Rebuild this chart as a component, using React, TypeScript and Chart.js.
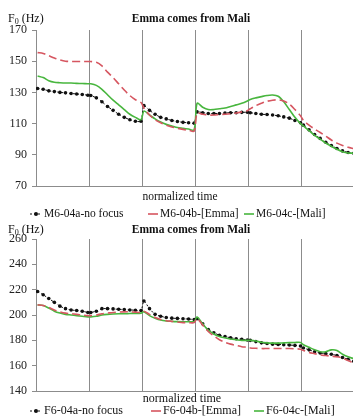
import React, { useEffect, useRef } from "react";
import { Chart, registerables } from "chart.js";

Chart.register(...registerables);

// ---------- data ----------
const SEGMENTS = [0, 1, 2, 3, 4, 5];
const SEG_FRAC = [0.03, 0.135, 0.24, 0.345, 0.45, 0.555, 0.66, 0.765, 0.87, 0.975];
const TIME = SEGMENTS.flatMap((k) => SEG_FRAC.map((f) => k + f));

const TITLE = "Emma comes from Mali";
const X_TITLE = "normalized time";

const M_LABELS = ["M6-04a-no focus", "M6-04b-[Emma]", "M6-04c-[Mali]"];
const F_LABELS = ["F6-04a-no focus", "F6-04b-[Emma]", "F6-04c-[Mali]"];

const M_NOFOCUS = [
  132.5, 132, 131, 130.5, 130, 129.7, 129.3, 129, 128.7, 128.2,
  128, 126.5, 124, 121, 118.5, 116, 114, 112.5, 111.5, 111.5,
  121.5, 118.5, 116, 114, 113, 112, 111.3, 110.8, 110.5, 110.3,
  117.5, 117, 116.5, 116.5, 116.5, 116.8, 117, 117, 117.2, 117.3,
  117, 116.5, 116, 115.8, 115.5, 115, 114.3, 113.5, 112, 110.5,
  109, 106, 103, 100.5, 98, 96, 94, 92.5, 91.5, 91,
];
const M_EMMA = [
  155.5, 155, 153.5, 152, 150.8, 150, 149.8, 149.8, 149.8, 149.8,
  149.8, 149.3, 147, 143, 139.5, 135.5, 131.5, 128, 125.3, 123.5,
  120, 115.5, 112.5, 110.5, 109, 107.8, 107, 106.3, 105.7, 105.2,
  116.5, 116, 115.5, 115.5, 115.8, 116, 116.3, 116.8, 117.5, 118.3,
  119.5, 121.5, 123, 124.3, 125, 125.2, 124.5, 122.5, 119, 115,
  112, 109, 106.5, 104.3, 102, 99.5, 97.5, 96, 94.8, 94,
];
const M_MALI = [
  140.5, 139.5, 137.5, 136.5, 136.2, 136, 136, 135.8, 135.7, 135.5,
  135.5, 134.5, 132, 128.5, 125, 122, 119, 116, 114, 112.5,
  118, 115.5, 113, 111, 109.5, 108.5, 107.5, 107, 106.5, 106,
  123, 120.5, 119, 119, 119.5, 120, 121, 122, 123, 124.5,
  125.5, 126.5, 127.3, 128, 128.3, 127.5, 124, 119, 114, 110,
  108.5, 105.5, 102.5, 100, 97.5, 95.5, 93.5, 92, 91.2, 91,
];

const F_NOFOCUS = [
  218.5, 216, 213, 210, 207, 205, 204, 203.5, 203, 202,
  202, 203, 205, 205, 204.8, 204.5, 204.3, 204, 203.8, 203.5,
  211, 205, 200.5, 199, 198, 197.5, 197.3, 197, 196.8, 196.5,
  197, 193, 188.5, 186, 184, 183, 182, 181.3, 180.8, 180.3,
  180, 179, 178, 177.5, 177, 176.8, 176.5, 176.3, 176, 175.5,
  174, 172.5, 171, 170, 169.5, 169, 168, 166.5, 165, 163.5,
];
const F_EMMA = [
  208, 207.5, 206, 204, 202.5, 201.5, 201, 200.5, 200, 199.5,
  199.5, 200, 201, 201.5, 202, 202.3, 202.5, 202.5, 202.3, 202,
  203, 200.5, 198, 196.5, 195.5, 195, 194.5, 194, 194, 194,
  197, 192, 187, 183.5, 180.5, 178.5, 177, 176, 175, 174.5,
  174, 173.7, 173.5, 173.5, 173.5, 173.5, 173.5, 173.5, 173.3, 173,
  172, 170.5, 169.5, 168.5, 168, 167.5, 167, 166, 164, 162,
];
const F_MALI = [
  208, 207.5, 205.5, 203, 201.5, 200.5, 200, 199.5, 199, 198.5,
  198.5, 199, 200, 200.5, 200.8, 201, 201, 201.2, 201.3, 201.5,
  202.5, 199.5, 197.5, 196, 195.3, 195, 194.8, 194.7, 194.7, 194.8,
  198.5, 193, 188, 185, 183, 182, 181, 180.5, 180, 180,
  180, 179.5, 178.5, 178, 177.8, 177.8, 178, 178.2, 178.3, 178.3,
  176.5, 174.5, 172.5, 171, 171, 172.5, 172, 169, 167, 165.5,
];

// ---------- styling ----------
const SERIF = '"Liberation Serif", "Times New Roman", serif';
const BLACK = "#111111";
const RED = "rgb(214, 86, 96)";
const GREEN = "rgb(72, 182, 62)";
const AXIS_GRAY = "#8c8c8c";

type Layout = {
  W: number;
  H: number;
  top: number;
  bottom: number;
  left: number;
  right: number;
  titleX: number;
  titleY: number;
  yLabelY: number;
  xTitleX: number;
  xTitleY: number;
  xTitleSize: number;
  legendY: number;
  legendSize: number;
  legendX: number[]; // symbol start x for each item
};

type Props = {
  layout: Layout;
  yMin: number;
  yMax: number;
  yStep: number;
  labels: string[];
  values: number[][];
};

function drawSymbol(ctx: CanvasRenderingContext2D, i: number, x: number, y: number) {
  ctx.save();
  if (i === 0) {
    ctx.strokeStyle = BLACK;
    ctx.lineWidth = 1;
    ctx.setLineDash([2, 2]);
    ctx.beginPath();
    ctx.moveTo(x, y);
    ctx.lineTo(x + 12, y);
    ctx.stroke();
    ctx.setLineDash([]);
    ctx.fillStyle = BLACK;
    ctx.beginPath();
    ctx.arc(x + 6, y, 2, 0, Math.PI * 2);
    ctx.fill();
  } else {
    ctx.strokeStyle = i === 1 ? RED : GREEN;
    ctx.lineWidth = 1.6;
    ctx.beginPath();
    ctx.moveTo(x, y);
    ctx.lineTo(x + 10, y);
    ctx.stroke();
  }
  ctx.restore();
}

function LineChart({ layout, yMin, yMax, yStep, labels, values }: Props) {
  const ref = useRef<HTMLCanvasElement | null>(null);

  useEffect(() => {
    const canvas = ref.current;
    if (!canvas) return;
    const L = layout;

    const textPlugin = {
      id: "texts",
      afterDraw(chart: any) {
        const ctx: CanvasRenderingContext2D = chart.ctx;
        ctx.save();
        ctx.fillStyle = "#111";
        ctx.textBaseline = "middle";
        // title
        ctx.font = `bold 11.5px ${SERIF}`;
        ctx.textAlign = "center";
        ctx.fillText(TITLE, L.titleX, L.titleY);
        // y label F0 (Hz)
        ctx.textAlign = "left";
        ctx.textBaseline = "alphabetic";
        ctx.font = `12px ${SERIF}`;
        let x = 8;
        ctx.fillText("F", x, L.yLabelY);
        x += ctx.measureText("F").width;
        ctx.font = `8px ${SERIF}`;
        ctx.fillText("0", x, L.yLabelY + 2);
        x += ctx.measureText("0").width;
        ctx.font = `12px ${SERIF}`;
        ctx.fillText(" (Hz)", x, L.yLabelY);
        // x title
        ctx.textBaseline = "middle";
        ctx.textAlign = "center";
        ctx.font = `${L.xTitleSize}px ${SERIF}`;
        ctx.fillText(X_TITLE, L.xTitleX, L.xTitleY);
        // legend
        ctx.textAlign = "left";
        ctx.font = `${L.legendSize}px ${SERIF}`;
        labels.forEach((lab, i) => {
          const sx = L.legendX[i];
          drawSymbol(ctx, i, sx, L.legendY);
          const w = i === 0 ? 14 : 12;
          ctx.fillStyle = "#111";
          ctx.fillText(lab, sx + w, L.legendY);
        });
        ctx.restore();
      },
    };

    const mk = (vals: number[]) => TIME.map((t, i) => ({ x: t, y: vals[i] }));

    const chart = new Chart(canvas, {
      type: "line",
      data: {
        datasets: [
          {
            label: labels[1],
            data: mk(values[1]),
            borderColor: RED,
            borderWidth: 1.6,
            borderDash: [8, 4],
            pointRadius: 0,
            tension: 0.3,
          },
          {
            label: labels[2],
            data: mk(values[2]),
            borderColor: GREEN,
            borderWidth: 1.6,
            pointRadius: 0,
            tension: 0.3,
          },
          {
            label: labels[0],
            data: mk(values[0]),
            borderColor: BLACK,
            borderWidth: 1,
            borderDash: [2, 2],
            pointRadius: 1.8,
            pointBackgroundColor: BLACK,
            pointBorderWidth: 0,
            tension: 0.2,
          },
        ],
      },
      options: {
        animation: false,
        responsive: false,
        devicePixelRatio: 1,
        layout: { padding: { top: L.top, right: L.W - L.right, left: 0, bottom: 0 } },
        plugins: {
          legend: { display: false },
          title: { display: false },
          tooltip: { enabled: false },
        },
        scales: {
          x: {
            type: "linear",
            min: 0,
            max: 6,
            ticks: { display: false, stepSize: 1 },
            grid: { color: AXIS_GRAY, drawTicks: false, lineWidth: 1 },
            border: { color: AXIS_GRAY },
            afterFit: (s: any) => {
              s.height = L.H - L.bottom;
            },
          },
          y: {
            min: yMin,
            max: yMax,
            ticks: {
              stepSize: yStep,
              color: "#222",
              padding: 5,
              font: { family: SERIF, size: 12 },
            },
            grid: { drawOnChartArea: false, drawTicks: true, tickLength: 4, color: AXIS_GRAY },
            border: { color: AXIS_GRAY },
            afterFit: (s: any) => {
              s.width = L.left;
            },
          },
        },
      },
      plugins: [textPlugin],
    });
    return () => chart.destroy();
  }, [layout, yMin, yMax, yStep, labels, values]);

  return <canvas ref={ref} width={layout.W} height={layout.H} style={{ display: "block" }} />;
}

const TOP_LAYOUT: Layout = {
  W: 370,
  H: 220,
  top: 30,
  bottom: 186,
  left: 36,
  right: 355,
  titleX: 191,
  titleY: 19,
  yLabelY: 22,
  xTitleX: 180,
  xTitleY: 197,
  xTitleSize: 11.5,
  legendY: 214,
  legendSize: 11.5,
  legendX: [30, 148, 244],
};

const BOTTOM_LAYOUT: Layout = {
  W: 370,
  H: 200,
  top: 19,
  bottom: 171,
  left: 36,
  right: 355,
  titleX: 191,
  titleY: 10,
  yLabelY: 13,
  xTitleX: 182,
  xTitleY: 179,
  xTitleSize: 12,
  legendY: 191,
  legendSize: 12,
  legendX: [30, 151, 254],
};

export default function App() {
  return (
    <div
      style={{
        position: "fixed",
        left: 0,
        top: 0,
        width: 353,
        height: 420,
        overflow: "hidden",
        background: "#fff",
      }}
    >
      <LineChart
        layout={TOP_LAYOUT}
        yMin={70}
        yMax={170}
        yStep={20}
        labels={M_LABELS}
        values={[M_NOFOCUS, M_EMMA, M_MALI]}
      />
      <LineChart
        layout={BOTTOM_LAYOUT}
        yMin={140}
        yMax={260}
        yStep={20}
        labels={F_LABELS}
        values={[F_NOFOCUS, F_EMMA, F_MALI]}
      />
    </div>
  );
}
